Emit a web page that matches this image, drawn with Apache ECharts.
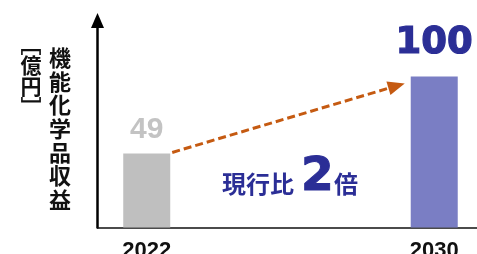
<!DOCTYPE html>
<html>
<head>
<meta charset="utf-8">
<script src="https://cdn.jsdelivr.net/npm/echarts@6/dist/echarts.min.js"></script>
<style>
  html, body { margin: 0; padding: 0; background: #fff; }
  #chart { width: 477px; height: 254px; }
</style>
</head>
<body>
<div id="chart"></div>
<script>
// data
const years = [2022, 2030];
const revenue = [49, 100];
const yAxisTitle = '機能化学品収益';
const yAxisUnit = '﹇億円﹈';
const growthText = ['現行比', '2', '倍'];

// styles
const barColors = ['#bfbfbf', '#7a7ec4'];
const barWidth = 47;
const navy = '#2b2e96';
const arrowColor = '#c55a11';

const chart = echarts.init(document.getElementById('chart'));

const option = {
    animation: false,
    grid: { left: 97.5, right: 0, top: 20.5, bottom: 26.5, outerBoundsMode: 'none' },
    xAxis: {
        type: 'value',
        min: 2020.63,
        max: 2031.19,
        splitLine: { show: false },
        axisTick: { show: false },
        axisLine: { show: true, lineStyle: { color: '#111', width: 1.5 } },
        axisLabel: {
            customValues: years,
            formatter: v => String(v),
            color: '#111',
            fontFamily: 'Liberation Sans',
            fontWeight: 'bold',
            fontSize: 22,
            margin: 12
        }
    },
    yAxis: {
        type: 'value',
        min: 0,
        max: 137,
        splitLine: { show: false },
        axisTick: { show: false },
        axisLabel: { show: false },
        axisLine: {
            show: true,
            symbol: ['none', 'triangle'],
            symbolSize: [13, 15],
            lineStyle: { color: '#000', width: 2.5 }
        }
    },
    series: [{
        type: 'bar',
        barWidth: barWidth,
        data: years.map((y, i) => ({
            value: [y, revenue[i]],
            itemStyle: { color: barColors[i] },
            label: i === 0
                ? { color: '#c3c3c3', fontSize: 30, fontFamily: 'Liberation Sans', distance: 9 }
                : { color: navy, fontSize: 37, fontFamily: 'DejaVu Sans', distance: 15,
                    textBorderColor: navy, textBorderWidth: 1.2 }
        })),
        label: {
            show: true,
            position: 'top',
            fontWeight: 'bold',
            formatter: p => String(p.value[1])
        }
    }]
};
chart.setOption(option);

// dashed arrow from the top of the first bar toward the second bar
const p1 = chart.convertToPixel({ gridIndex: 0 }, [years[0], revenue[0]]);
const p2 = chart.convertToPixel({ gridIndex: 0 }, [years[1], revenue[1]]);
const start = [p1[0] + barWidth / 2 + 2, p1[1] - 1];
const tip = [p2[0] - barWidth / 2 - 6, p2[1] + 7];
const dx = tip[0] - start[0], dy = tip[1] - start[1];
const len = Math.sqrt(dx * dx + dy * dy);
const ux = dx / len, uy = dy / len;
const headL = 17, headW = 14;
const base = [tip[0] - ux * headL, tip[1] - uy * headL];

chart.setOption({
    graphic: [
        {
            type: 'line',
            shape: { x1: start[0], y1: start[1], x2: base[0] + ux * 2, y2: base[1] + uy * 2 },
            style: { stroke: arrowColor, lineWidth: 3, lineDash: [8, 4] }
        },
        {
            type: 'polygon',
            shape: {
                points: [
                    tip,
                    [base[0] - uy * headW / 2, base[1] + ux * headW / 2],
                    [base[0] + uy * headW / 2, base[1] - ux * headW / 2]
                ]
            },
            style: { fill: arrowColor }
        },
        {
            type: 'text',
            style: {
                x: 60, y: 46,
                text: yAxisTitle.split('').join('\n'),
                fontFamily: 'Noto Sans CJK JP',
                fontWeight: 'bold',
                fontSize: 22,
                lineHeight: 23.6,
                fill: '#111',
                align: 'center',
                verticalAlign: 'top'
            }
        },
        {
            type: 'text',
            style: {
                x: 31, y: 34,
                text: yAxisUnit.split('').join('\n'),
                fontFamily: 'Noto Sans CJK JP',
                fontWeight: 'bold',
                fontSize: 21,
                lineHeight: 21,
                fill: '#111',
                align: 'center',
                verticalAlign: 'top'
            }
        },
        {
            type: 'text',
            style: {
                x: 222, y: 196,
                text: growthText[0],
                fontFamily: 'Noto Sans CJK JP',
                fontWeight: 'bold',
                fontSize: 24,
                fill: navy,
                align: 'left',
                verticalAlign: 'bottom'
            }
        },
        {
            type: 'text',
            style: {
                x: 301, y: 201,
                text: growthText[1],
                fontFamily: 'DejaVu Sans',
                fontWeight: 'bold',
                fontSize: 47,
                fill: navy,
                stroke: navy,
                lineWidth: 1,
                align: 'left',
                verticalAlign: 'bottom'
            }
        },
        {
            type: 'text',
            style: {
                x: 334, y: 196,
                text: growthText[2],
                fontFamily: 'Noto Sans CJK JP',
                fontWeight: 'bold',
                fontSize: 24,
                fill: navy,
                align: 'left',
                verticalAlign: 'bottom'
            }
        }
    ]
});
</script>
</body>
</html>
